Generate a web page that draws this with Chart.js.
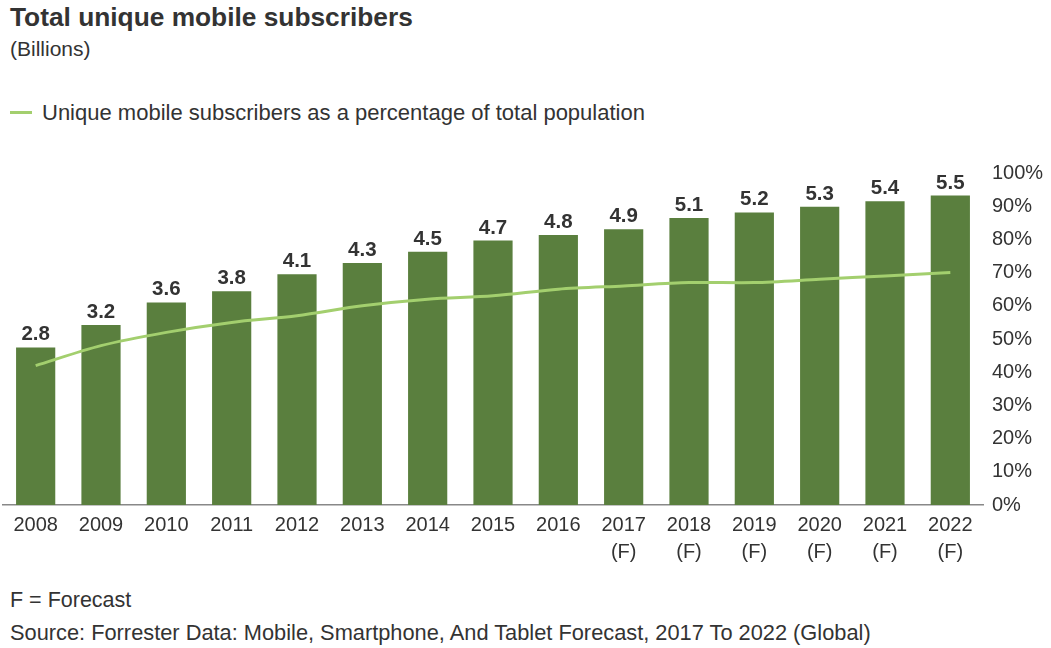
<!DOCTYPE html>
<html>
<head>
<meta charset="utf-8">
<script src="https://cdn.jsdelivr.net/npm/chart.js@4.4.1/dist/chart.umd.min.js"></script>
<style>
  body { margin: 0; background: #fff; font-family: "Liberation Sans", Arial, sans-serif; color: #333; }
  #wrap { position: relative; width: 1051px; height: 648px; overflow: hidden; }
  .txt { position: absolute; left: 10px; white-space: nowrap; line-height: 1.15; }
  #title { top: 2px; font-size: 26.3px; font-weight: bold; }
  #unit { top: 37px; font-size: 21px; }
  #legend { top: 100px; font-size: 22px; left: 10px; }
  #legend span.key { display: inline-block; width: 22px; height: 3px; background: #a3cf6e; vertical-align: middle; margin-right: 10px; margin-top: -4px; }
  #note { top: 588px; font-size: 21.5px; }
  #source { top: 620px; font-size: 21.8px; }
  #box { position: absolute; left: 0; top: 150px; width: 1051px; height: 420px; }
</style>
</head>
<body>
<div id="wrap">
  <div class="txt" id="title">Total unique mobile subscribers</div>
  <div class="txt" id="unit">(Billions)</div>
  <div class="txt" id="legend"><span class="key"></span>Unique mobile subscribers as a percentage of total population</div>
  <div id="box"><canvas id="chart" width="1051" height="420"></canvas></div>
  <div class="txt" id="note">F = Forecast</div>
  <div class="txt" id="source">Source: Forrester Data: Mobile, Smartphone, And Tablet Forecast, 2017 To 2022 (Global)</div>
</div>
<script>
const years = ['2008', '2009', '2010', '2011', '2012', '2013', '2014', '2015', '2016',
  ['2017', '(F)'], ['2018', '(F)'], ['2019', '(F)'], ['2020', '(F)'], ['2021', '(F)'], ['2022', '(F)']];
const subscribers = [2.8, 3.2, 3.6, 3.8, 4.1, 4.3, 4.5, 4.7, 4.8, 4.9, 5.1, 5.2, 5.3, 5.4, 5.5];
const shareOfPopulation = [42, 48, 52, 55, 57, 60, 62, 63, 65, 66, 67, 67, 68, 69, 70];

const barGreen = '#5a7f3e';
const lineGreen = '#a3cf6e';
const fontFamily = '"Liberation Sans", Arial, sans-serif';

// value labels above each bar
const barLabels = {
  id: 'barLabels',
  afterDatasetsDraw(chart) {
    const ctx = chart.ctx;
    const meta = chart.getDatasetMeta(1);
    ctx.save();
    ctx.font = 'bold 20.5px ' + fontFamily;
    ctx.fillStyle = '#333';
    ctx.textAlign = 'center';
    ctx.textBaseline = 'alphabetic';
    meta.data.forEach((bar, i) => {
      ctx.fillText(subscribers[i].toFixed(1), bar.x, bar.y - 7);
    });
    ctx.restore();
  }
};

new Chart(document.getElementById('chart'), {
  data: {
    labels: years,
    datasets: [{
      type: 'line',
      label: 'Unique mobile subscribers as a percentage of total population',
      data: shareOfPopulation,
      yAxisID: 'pct',
      borderColor: lineGreen,
      borderWidth: 3,
      pointRadius: 0,
      tension: 0.3,
      order: 0
    }, {
      type: 'bar',
      label: 'Total unique mobile subscribers',
      data: subscribers,
      yAxisID: 'bn',
      backgroundColor: barGreen,
      barPercentage: 0.6,
      categoryPercentage: 1,
      order: 1
    }]
  },
  options: {
    responsive: false,
    animation: false,
    layout: { padding: { top: 23, left: 3, right: 0, bottom: 0 } },
    plugins: {
      legend: { display: false },
      tooltip: { enabled: false }
    },
    scales: {
      x: {
        grid: { display: false, drawTicks: false, tickLength: 0 },
        border: { display: true, color: '#888', width: 1.5 },
        ticks: {
          color: '#333',
          padding: 7,
          maxRotation: 0,
          autoSkip: false,
          font: { family: fontFamily, size: 20, lineHeight: 1.35 }
        },
        afterFit(scale) { scale.height = 65; }
      },
      bn: {
        display: false,
        min: 0,
        max: 5.9
      },
      pct: {
        position: 'right',
        min: 0,
        max: 100,
        grid: { display: false, drawTicks: false, tickLength: 0 },
        border: { display: false },
        ticks: {
          stepSize: 10,
          padding: 9,
          color: '#333',
          callback: v => v + '%',
          font: { family: fontFamily, size: 20 }
        },
        afterFit(scale) { scale.width = 68; }
      }
    }
  },
  plugins: [barLabels]
});
</script>
</body>
</html>
